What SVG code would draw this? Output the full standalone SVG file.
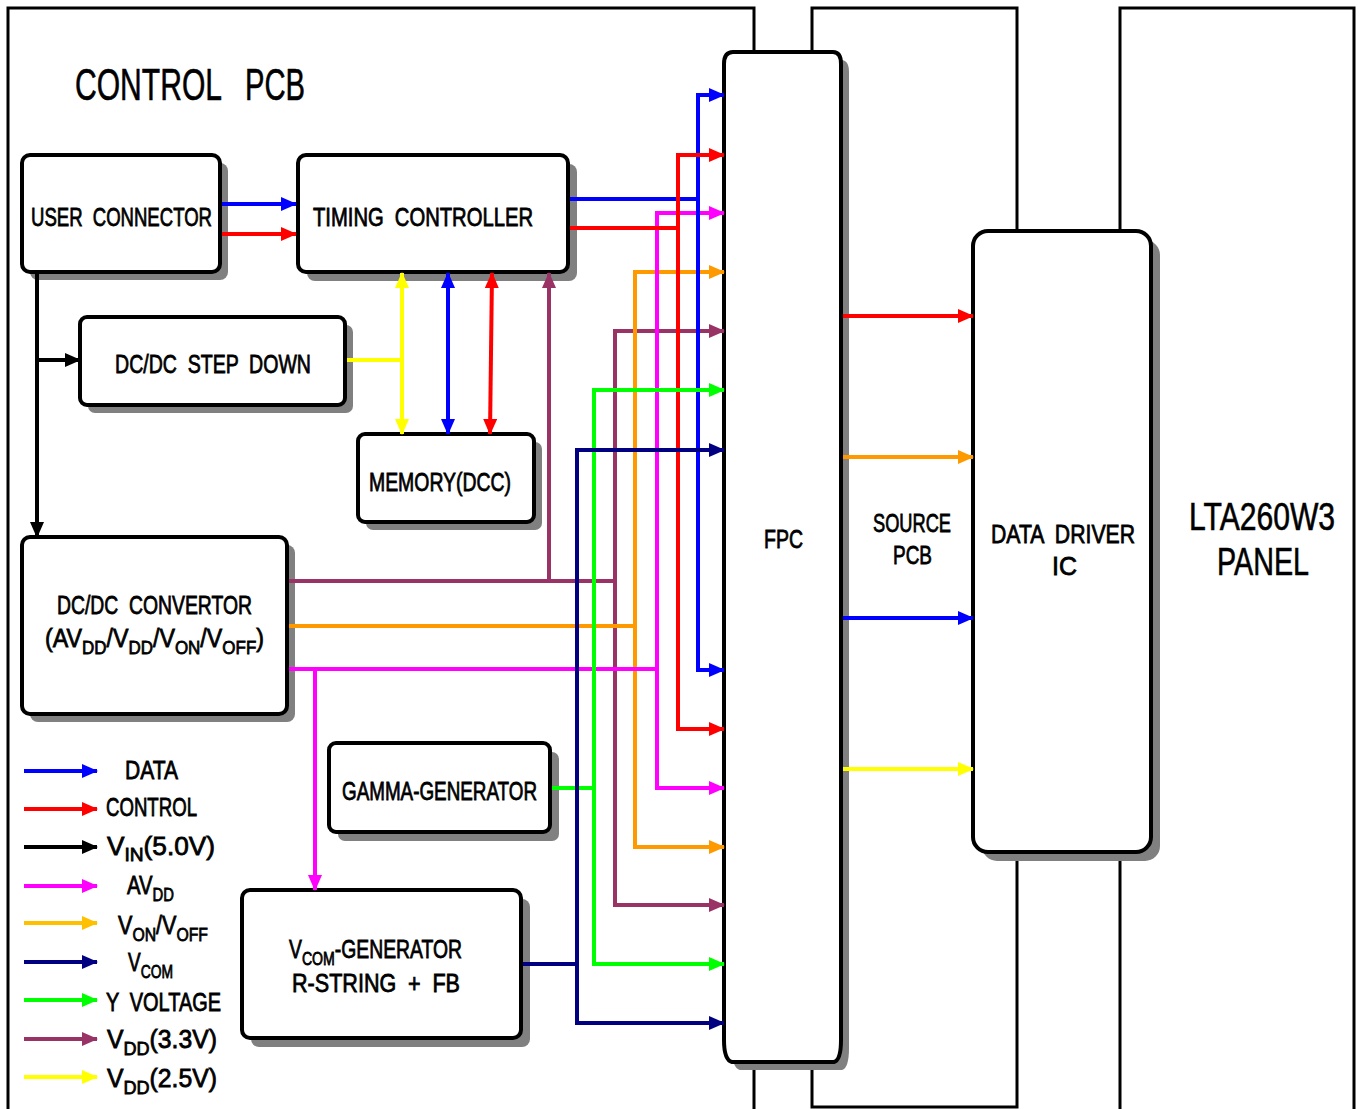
<svg xmlns="http://www.w3.org/2000/svg" width="1360" height="1109" viewBox="0 0 1360 1109">
<defs>
<style>
.box{fill:#fff;stroke:#000;stroke-width:4}
.sh{fill:#808080}
.pcb{fill:none;stroke:#000;stroke-width:3}
.t{font-family:"Liberation Sans",Arial,sans-serif;font-size:26px;font-weight:normal;fill:#000;stroke:#000;stroke-width:0.8;word-spacing:7px}
.tl{font-family:"Liberation Sans",Arial,sans-serif;fill:#000;stroke:#000;stroke-width:0.6}
.c{fill:none;stroke-width:4}
.sub{font-size:19px}
</style>
<marker id="aB" markerUnits="userSpaceOnUse" markerWidth="17" markerHeight="15" refX="15" refY="7" orient="auto-start-reverse"><path d="M0,0 L16,7 L0,14 z" fill="#0000FF"/></marker>
<marker id="aR" markerUnits="userSpaceOnUse" markerWidth="17" markerHeight="15" refX="15" refY="7" orient="auto-start-reverse"><path d="M0,0 L16,7 L0,14 z" fill="#FF0000"/></marker>
<marker id="aK" markerUnits="userSpaceOnUse" markerWidth="17" markerHeight="15" refX="15" refY="7" orient="auto-start-reverse"><path d="M0,0 L16,7 L0,14 z" fill="#000000"/></marker>
<marker id="aM" markerUnits="userSpaceOnUse" markerWidth="17" markerHeight="15" refX="15" refY="7" orient="auto-start-reverse"><path d="M0,0 L16,7 L0,14 z" fill="#FF00FF"/></marker>
<marker id="aO" markerUnits="userSpaceOnUse" markerWidth="17" markerHeight="15" refX="15" refY="7" orient="auto-start-reverse"><path d="M0,0 L16,7 L0,14 z" fill="#FF9900"/></marker>
<marker id="aL" markerUnits="userSpaceOnUse" markerWidth="17" markerHeight="15" refX="15" refY="7" orient="auto-start-reverse"><path d="M0,0 L16,7 L0,14 z" fill="#FFC000"/></marker>
<marker id="aN" markerUnits="userSpaceOnUse" markerWidth="17" markerHeight="15" refX="15" refY="7" orient="auto-start-reverse"><path d="M0,0 L16,7 L0,14 z" fill="#000080"/></marker>
<marker id="aG" markerUnits="userSpaceOnUse" markerWidth="17" markerHeight="15" refX="15" refY="7" orient="auto-start-reverse"><path d="M0,0 L16,7 L0,14 z" fill="#00FF00"/></marker>
<marker id="aP" markerUnits="userSpaceOnUse" markerWidth="17" markerHeight="15" refX="15" refY="7" orient="auto-start-reverse"><path d="M0,0 L16,7 L0,14 z" fill="#993366"/></marker>
<marker id="aY" markerUnits="userSpaceOnUse" markerWidth="17" markerHeight="15" refX="15" refY="7" orient="auto-start-reverse"><path d="M0,0 L16,7 L0,14 z" fill="#FFFF00"/></marker>
</defs>
<rect width="1360" height="1109" fill="#fff"/>

<g id="control-pcb">
<path class="pcb" d="M8,1112 V8 H754 V1112"/>
<text class="tl" x="75" y="100" font-size="45" textLength="147" lengthAdjust="spacingAndGlyphs">CONTROL</text>
<text class="tl" x="245" y="100" font-size="45" textLength="60" lengthAdjust="spacingAndGlyphs">PCB</text>
</g>
<g id="source-pcb">
<path class="pcb" d="M812,1107 V8 H1017 V1107 Z"/>
</g>
<g id="panel">
<path class="pcb" d="M1120,1112 V8 H1354 V1112"/>
<text class="tl" x="1189" y="530" font-size="38" textLength="146" lengthAdjust="spacingAndGlyphs">LTA260W3</text>
<text class="tl" x="1217" y="575" font-size="38" textLength="92" lengthAdjust="spacingAndGlyphs">PANEL</text>
</g>

<g id="user-connector">
<rect class="sh" x="30" y="163" width="198" height="117" rx="8"/>
<rect class="box" x="22" y="155" width="198" height="117" rx="8"/>
<text class="t" x="31" y="226" textLength="181" lengthAdjust="spacingAndGlyphs">USER CONNECTOR</text>
</g>
<g id="timing-controller">
<rect class="sh" x="307" y="164" width="270" height="117" rx="8"/>
<rect class="box" x="298" y="155" width="270" height="117" rx="8"/>
<text class="t" x="313" y="226" textLength="220" lengthAdjust="spacingAndGlyphs">TIMING CONTROLLER</text>
</g>
<g id="dcdc-step-down">
<rect class="sh" x="88" y="325" width="265" height="88" rx="7"/>
<rect class="box" x="80" y="317" width="265" height="88" rx="7"/>
<text class="t" x="115" y="373" textLength="196" lengthAdjust="spacingAndGlyphs">DC/DC STEP DOWN</text>
</g>
<g id="memory">
<rect class="sh" x="366" y="442" width="176" height="88" rx="7"/>
<rect class="box" x="358" y="434" width="176" height="88" rx="7"/>
<text class="t" x="369" y="491" textLength="142" lengthAdjust="spacingAndGlyphs">MEMORY(DCC)</text>
</g>
<g id="dcdc-convertor">
<rect class="sh" x="30" y="545" width="265" height="177" rx="8"/>
<rect class="box" x="22" y="537" width="265" height="177" rx="8"/>
<text class="t" x="57" y="614" textLength="195" lengthAdjust="spacingAndGlyphs">DC/DC CONVERTOR</text>
<text class="t" x="45" y="647" textLength="219" lengthAdjust="spacingAndGlyphs">(AV<tspan class="sub" dy="7">DD</tspan><tspan dy="-7">/V</tspan><tspan class="sub" dy="7">DD</tspan><tspan dy="-7">/V</tspan><tspan class="sub" dy="7">ON</tspan><tspan dy="-7">/V</tspan><tspan class="sub" dy="7">OFF</tspan><tspan dy="-7">)</tspan></text>
</g>
<g id="gamma-generator">
<rect class="sh" x="338" y="752" width="221" height="89" rx="7"/>
<rect class="box" x="329" y="743" width="221" height="89" rx="7"/>
<text class="t" x="342" y="800" textLength="195" lengthAdjust="spacingAndGlyphs">GAMMA-GENERATOR</text>
</g>
<g id="vcom-generator">
<rect class="sh" x="251" y="899" width="279" height="148" rx="8"/>
<rect class="box" x="242" y="890" width="279" height="148" rx="8"/>
<text class="t" x="289" y="958" textLength="173" lengthAdjust="spacingAndGlyphs">V<tspan class="sub" dy="7">COM</tspan><tspan dy="-7">-GENERATOR</tspan></text>
<text class="t" x="292" y="992" textLength="168" lengthAdjust="spacingAndGlyphs">R-STRING + FB</text>
</g>
<g id="fpc">
<path class="sh" d="M741,60 H841 Q849,60 849,72 V1048 Q849,1068 842,1070 H740 Q732,1068 732,1048 V72 Q732,60 741,60 Z"/>
<path class="box" d="M733,52 H833 Q841,52 841,64 V1040 Q841,1060 834,1062 H732 Q724,1060 724,1040 V64 Q724,52 733,52 Z"/>
<text class="t" x="764" y="548" textLength="39" lengthAdjust="spacingAndGlyphs">FPC</text>
</g>
<g id="source-pcb-label">
<text class="t" x="873" y="532" textLength="78" lengthAdjust="spacingAndGlyphs">SOURCE</text>
<text class="t" x="893" y="564" textLength="39" lengthAdjust="spacingAndGlyphs">PCB</text>
</g>
<g id="data-driver-ic">
<rect class="sh" x="982" y="240" width="178" height="621" rx="15"/>
<rect class="box" x="973" y="231" width="178" height="621" rx="15"/>
<text class="t" x="991" y="543" textLength="144" lengthAdjust="spacingAndGlyphs">DATA DRIVER</text>
<text class="t" x="1052" y="575" textLength="25" lengthAdjust="spacingAndGlyphs">IC</text>
</g>

<g id="connectors">
<path class="c" stroke="#0000FF" d="M222,204 H296" marker-end="url(#aB)"/>
<path class="c" stroke="#FF0000" d="M222,234 H296" marker-end="url(#aR)"/>
<path class="c" stroke="#000" stroke-width="3" d="M37,274 V537" marker-end="url(#aK)"/>
<path class="c" stroke="#000" stroke-width="3" d="M37,360 H80" marker-end="url(#aK)"/>
<path class="c" stroke="#FFFF00" d="M347,360 H402"/>
<path class="c" stroke="#FFFF00" d="M402,273 V434" marker-start="url(#aY)" marker-end="url(#aY)"/>
<path class="c" stroke="#0000FF" d="M448,273 V434" marker-start="url(#aB)" marker-end="url(#aB)"/>
<path class="c" stroke="#FF0000" d="M492,273 L490,434" marker-start="url(#aR)" marker-end="url(#aR)"/>
<path class="c" stroke="#993366" d="M289,581 H615"/>
<path class="c" stroke="#993366" d="M549,581 V273" marker-end="url(#aP)"/>
<path class="c" stroke="#993366" d="M615,331 V905"/>
<path class="c" stroke="#993366" d="M613,331 H724" marker-end="url(#aP)"/>
<path class="c" stroke="#993366" d="M613,905 H724" marker-end="url(#aP)"/>
<path class="c" stroke="#FF9900" d="M289,626 H635"/>
<path class="c" stroke="#FF9900" d="M635,272 V847"/>
<path class="c" stroke="#FF9900" d="M633,272 H724" marker-end="url(#aO)"/>
<path class="c" stroke="#FF9900" d="M633,847 H724" marker-end="url(#aO)"/>
<path class="c" stroke="#FF00FF" d="M289,669 H657"/>
<path class="c" stroke="#FF00FF" d="M657,213 V788"/>
<path class="c" stroke="#FF00FF" d="M655,213 H724" marker-end="url(#aM)"/>
<path class="c" stroke="#FF00FF" d="M655,788 H724" marker-end="url(#aM)"/>
<path class="c" stroke="#FF00FF" d="M315,669 V890" marker-end="url(#aM)"/>
<path class="c" stroke="#0000FF" d="M570,199 H698"/>
<path class="c" stroke="#0000FF" d="M698,95 V670"/>
<path class="c" stroke="#0000FF" d="M696,95 H724" marker-end="url(#aB)"/>
<path class="c" stroke="#0000FF" d="M696,670 H724" marker-end="url(#aB)"/>
<path class="c" stroke="#FF0000" d="M570,228 H678"/>
<path class="c" stroke="#FF0000" d="M678,155 V729"/>
<path class="c" stroke="#FF0000" d="M676,155 H724" marker-end="url(#aR)"/>
<path class="c" stroke="#FF0000" d="M676,729 H724" marker-end="url(#aR)"/>
<path class="c" stroke="#00FF00" d="M552,788 H594"/>
<path class="c" stroke="#00FF00" d="M594,390 V964"/>
<path class="c" stroke="#00FF00" d="M592,390 H724" marker-end="url(#aG)"/>
<path class="c" stroke="#00FF00" d="M592,964 H724" marker-end="url(#aG)"/>
<path class="c" stroke="#000080" d="M523,964 H577"/>
<path class="c" stroke="#000080" d="M577,450 V1023"/>
<path class="c" stroke="#000080" d="M575,450 H724" marker-end="url(#aN)"/>
<path class="c" stroke="#000080" d="M575,1023 H724" marker-end="url(#aN)"/>
<path class="c" stroke="#FF0000" d="M843,316 H973" marker-end="url(#aR)"/>
<path class="c" stroke="#FF9900" d="M843,457 H973" marker-end="url(#aO)"/>
<path class="c" stroke="#0000FF" d="M843,618 H973" marker-end="url(#aB)"/>
<path class="c" stroke="#FFFF00" d="M843,769 H973" marker-end="url(#aY)"/>
</g>

<g id="legend">
<path class="c" stroke="#0000FF" d="M24,771 H97" marker-end="url(#aB)"/>
<path class="c" stroke="#FF0000" d="M24,809 H97" marker-end="url(#aR)"/>
<path class="c" stroke="#000000" d="M24,847 H97" marker-end="url(#aK)"/>
<path class="c" stroke="#FF00FF" d="M24,886 H97" marker-end="url(#aM)"/>
<path class="c" stroke="#FFC000" d="M24,923 H97" marker-end="url(#aL)"/>
<path class="c" stroke="#000080" d="M24,962 H97" marker-end="url(#aN)"/>
<path class="c" stroke="#00FF00" d="M24,1000 H97" marker-end="url(#aG)"/>
<path class="c" stroke="#993366" d="M24,1039 H97" marker-end="url(#aP)"/>
<path class="c" stroke="#FFFF00" d="M24,1077 H97" marker-end="url(#aY)"/>
<text class="t" x="125" y="779" textLength="53" lengthAdjust="spacingAndGlyphs">DATA</text>
<text class="t" x="106" y="816" textLength="91" lengthAdjust="spacingAndGlyphs">CONTROL</text>
<text class="t" x="107" y="855" textLength="108" lengthAdjust="spacingAndGlyphs">V<tspan class="sub" dy="6">IN</tspan><tspan dy="-6">(5.0V)</tspan></text>
<text class="t" x="127" y="894" textLength="47" lengthAdjust="spacingAndGlyphs">AV<tspan class="sub" dy="7">DD</tspan></text>
<text class="t" x="118" y="934" textLength="90" lengthAdjust="spacingAndGlyphs">V<tspan class="sub" dy="7">ON</tspan><tspan dy="-7">/V</tspan><tspan class="sub" dy="7">OFF</tspan></text>
<text class="t" x="128" y="971" textLength="45" lengthAdjust="spacingAndGlyphs">V<tspan class="sub" dy="7">COM</tspan></text>
<text class="t" x="106" y="1011" textLength="115" lengthAdjust="spacingAndGlyphs">Y VOLTAGE</text>
<text class="t" x="107" y="1048" textLength="110" lengthAdjust="spacingAndGlyphs">V<tspan class="sub" dy="7">DD</tspan><tspan dy="-7">(3.3V)</tspan></text>
<text class="t" x="107" y="1087" textLength="110" lengthAdjust="spacingAndGlyphs">V<tspan class="sub" dy="7">DD</tspan><tspan dy="-7">(2.5V)</tspan></text>
</g>
</svg>
